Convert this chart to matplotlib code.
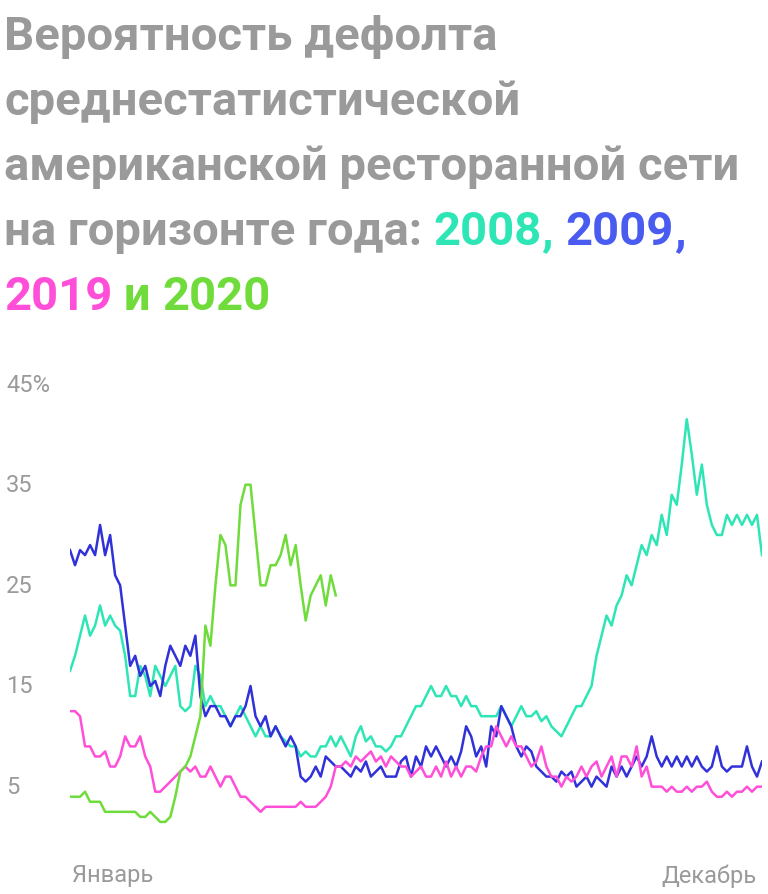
import numpy as np
import matplotlib
matplotlib.use("Agg")
import matplotlib.pyplot as plt

# ---------------------------------------------------------------------------
# Data (probability of default, %, sampled roughly every few trading days)
# ---------------------------------------------------------------------------
y2008 = [16.5, 18, 20, 22, 20, 21, 23, 21, 22, 21, 20.5, 18, 14, 14, 17, 16, 14, 17, 16, 15,
         16, 17, 13, 12.5, 13, 17, 16, 13, 14, 13, 13, 12, 11, 12, 13, 12, 11, 10, 11, 10,
         10, 11, 10, 9.5, 9, 9, 8, 8.5, 8, 8, 9, 9, 10, 9, 10, 9, 8, 10, 11, 9.5,
         10, 9, 9, 8.5, 9, 10, 10, 11, 12, 13, 13, 14, 15, 14, 14, 15, 14, 14, 13, 14,
         13, 13, 12, 12, 12, 12, 13, 12, 11, 12, 13, 12, 12, 12.5, 11.5, 12, 11, 10.5, 10, 11,
         12, 13, 13, 14, 15, 18, 20, 22, 21, 23, 24, 26, 25, 27, 29, 28, 30, 29, 32, 30,
         34, 33, 37, 41.5, 38, 34, 37, 33, 31, 30, 30, 32, 31, 32, 31, 32, 31, 32, 28]
y2009 = [28.5, 27, 28.5, 28, 29, 28, 31, 28, 30, 26, 25, 21, 17, 18, 16, 17, 15, 15.5, 14, 17,
         19, 18, 17, 19, 18, 20, 14, 12, 13, 13, 12, 12, 11, 12, 12, 13, 15, 12, 11, 12,
         10, 11, 10, 9, 10, 9, 6, 5.5, 6, 7, 6, 8, 7.5, 7, 7, 6.5, 6, 7, 6.5, 7.5,
         6, 6.5, 7, 6, 6, 6, 7.5, 8, 6, 8, 7, 9, 8, 9, 8, 7, 8, 7, 8.5, 11,
         10, 8, 9, 7, 11, 10, 13, 12, 11, 9, 8, 9, 8.5, 7, 6.5, 6, 6, 5.5, 6.5, 6,
         6.5, 5, 5.5, 6, 5, 6, 5.5, 5, 7, 6, 7, 6, 7, 8, 7, 8, 10, 8, 7, 8,
         7, 8, 7, 8, 7, 8, 7, 6.5, 7, 9, 7, 6.5, 7, 7, 7, 9, 7, 6, 7.5]
y2019 = [12.5, 12.5, 12, 9, 9, 8, 8, 8.5, 7, 7, 8, 10, 9, 9, 10, 8, 7, 4.5, 4.5, 5,
         5.5, 6, 6.5, 7, 6.5, 7, 6, 6, 7, 6, 5, 6, 6, 5, 4, 4, 3.5, 3, 2.5, 3,
         3, 3, 3, 3, 3, 3, 3.5, 3, 3, 3, 3.5, 4, 5, 7, 7, 7.5, 7, 8, 7.5, 8,
         8.5, 7.5, 8, 7, 8, 7.5, 7, 7, 6, 6.5, 7, 6, 6, 7, 6, 7.5, 6, 7, 6, 7,
         7, 6.5, 8, 9, 9, 11, 10, 9, 10, 9, 9, 8, 7, 7.5, 9, 7, 6, 6, 5, 6,
         5.5, 6, 7, 6, 7, 7.5, 6, 7, 8, 6, 8, 8, 7, 9, 6, 7, 5, 5, 5, 4.5,
         5, 4.5, 4.5, 5, 4.5, 5, 5, 5.5, 4.5, 4, 4, 4.5, 4, 4.5, 4.5, 5, 4.5, 5, 5]
y2020 = [4, 4, 4, 4.5, 3.5, 3.5, 3.5, 2.5, 2.5, 2.5, 2.5, 2.5, 2.5, 2.5, 2, 2, 2.5, 2, 1.5, 1.5,
         2, 4, 6.5, 7, 8, 10, 12, 21, 19, 25, 30, 29, 25, 25, 33, 35, 35, 30, 25, 25,
         27, 27, 28, 30, 27, 29, 25, 21.5, 24, 25, 26, 23, 26, 24]

series = [
    ("2008", y2008, "#2ee6b5", "#2ee6b5"),
    ("2009", y2009, "#3131d9", "#4a5cf0"),
    ("2019", y2019, "#ff4fd8", "#ff4fd8"),
    ("2020", y2020, "#6fdc3c", "#6fdc3c"),
]
N_FULL = len(y2008)
yticks = [5, 15, 25, 35, 45]
ytick_labels = ["5", "15", "25", "35", "45%"]
x_labels = ["Январь", "Декабрь"]

GRAY = "#9a9a9a"
FONT = ["Roboto", "DejaVu Sans"]
plt.rcParams["font.family"] = FONT

fig = plt.figure(figsize=(7.68, 8.95), dpi=100)
ax = fig.add_axes([70 / 768, (895 - 838) / 895, 692 / 768, 453 / 895])

for name, vals, color, _ in series:
    ax.plot(np.arange(len(vals)), vals, color=color, lw=1.8)

ax.set_xlim(0, N_FULL - 1)
ax.set_ylim(0, 45)
ax.set_xticks([])
ax.set_yticks([])
for s in ax.spines.values():
    s.set_visible(False)

trans = matplotlib.transforms.blended_transform_factory(fig.transFigure, ax.transData)
for v, lab in zip(yticks, ytick_labels):
    ax.text(6 / 768, v, lab, transform=trans, ha="left", va="center",
            fontsize=17, color=GRAY)
fig.text(72 / 768, 1 - 876 / 895, x_labels[0], ha="left", va="center", fontsize=17, color=GRAY)
fig.text(756 / 768, 1 - 876 / 895, x_labels[1], ha="right", va="center", fontsize=17, color=GRAY)

# ---------------------------------------------------------------------------
# Title with coloured years
# ---------------------------------------------------------------------------
c = {name: tc for name, _, _, tc in series}
title_lines = [
    [("Вероятность дефолта", GRAY)],
    [("среднестатистической", GRAY)],
    [("американской ресторанной сети", GRAY)],
    [("на горизонте года: ", GRAY), ("2008", c["2008"]), (", ", c["2008"]),
     ("2009", c["2009"]), (",", c["2009"])],
    [("2019", c["2019"]), (" и ", c["2020"]), ("2020", c["2020"])],
]
fig.canvas.draw()
renderer = fig.canvas.get_renderer()
for i, pieces in enumerate(title_lines):
    x = 4
    ybase = 50 + i * 65
    for txt, col in pieces:
        t = fig.text(x / 768, 1 - ybase / 895, txt, ha="left", va="baseline",
                     fontsize=34, fontweight="bold", color=col)
        bb = t.get_window_extent(renderer)
        x += bb.width

fig.savefig("out.png", dpi=100)
